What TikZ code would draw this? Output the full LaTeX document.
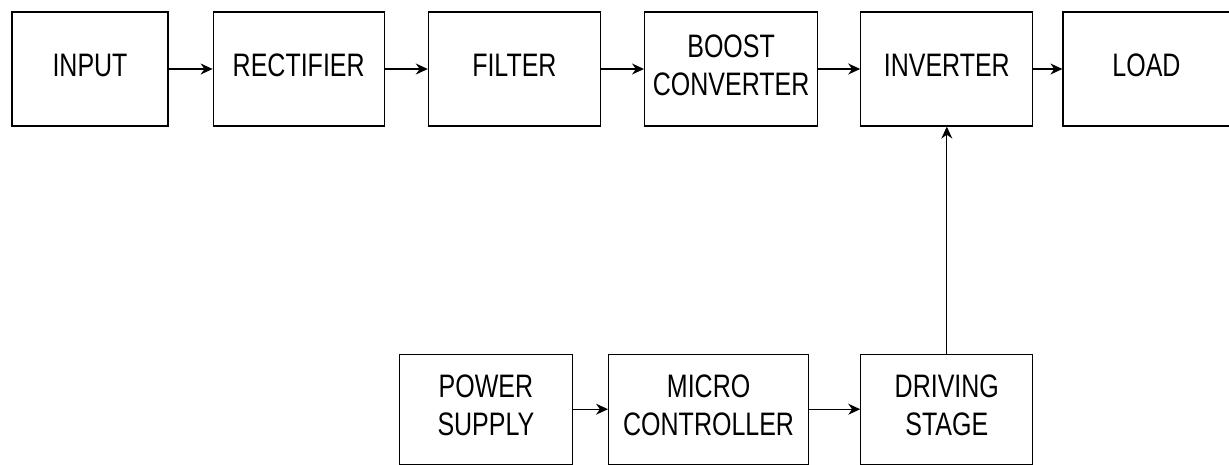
\documentclass[tikz,border=0pt]{standalone}
\usepackage{fontspec}
\setmainfont{Liberation Sans}
\usetikzlibrary{positioning,arrows.meta}

% tall narrow lettering, as in the drawing
\newcommand{\blktext}[1]{\scalebox{1}[1.3]{\begin{tabular}{@{}c@{}}#1\end{tabular}}}

\begin{document}
\begin{tikzpicture}[
    >={Stealth[length=12pt,width=11pt]},
    every node/.style={font=\fontsize{25}{29}\selectfont},
    blk/.style={draw, line width=1.2pt, minimum height=114pt, inner sep=2pt, text centered},
    lowblk/.style={blk, minimum height=110pt},
    flowarrow/.style={->, line width=1.2pt, black},
]
\useasboundingbox (0,0) rectangle (1229pt,-464pt);

% ---- Top row: power path ----
\node[blk, minimum width=156pt] (input) at (90pt,-69pt) {\blktext{INPUT}};
\node[blk, minimum width=171pt, right=44pt of input] (rectifier) {\blktext{RECTIFIER}};
\node[blk, minimum width=172pt, right=43pt of rectifier] (filter) {\blktext{FILTER}};
\node[blk, minimum width=173pt, right=43pt of filter] (boost) {\blktext{BOOST\\CONVERTER}};
\node[blk, minimum width=172pt, right=42pt of boost] (inverter) {\blktext{INVERTER}};
\node[blk, minimum width=167pt, right=29pt of inverter] (load) {\blktext{LOAD}};

\draw[flowarrow] (input) -- (rectifier);
\draw[flowarrow] (rectifier) -- (filter);
\draw[flowarrow] (filter) -- (boost);
\draw[flowarrow] (boost) -- (inverter);
\draw[flowarrow] (inverter) -- (load);

% ---- Bottom row: control path ----
\node[lowblk, minimum width=172pt, below=227pt of inverter] (driving) {\blktext{DRIVING\\STAGE}};
\node[lowblk, minimum width=200pt, left=51pt of driving] (micro) {\blktext{MICRO\\CONTROLLER}};
\node[lowblk, minimum width=173pt, left=35pt of micro] (supply) {\blktext{POWER\\SUPPLY}};

\draw[flowarrow] (supply) -- (micro);
\draw[flowarrow] (micro) -- (driving);
\draw[flowarrow] (driving) -- (inverter);

\end{tikzpicture}
\end{document}
